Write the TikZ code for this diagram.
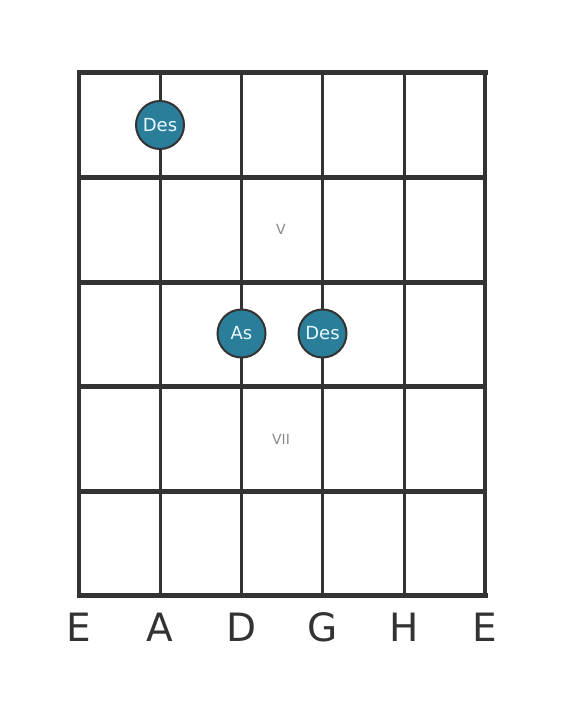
\documentclass[tikz,border=0pt]{standalone}
\usepackage{fontspec}
\setmainfont{DejaVu Sans}
\definecolor{gridc}{HTML}{333333}
\definecolor{notec}{HTML}{2B7E9A}
\definecolor{notetext}{HTML}{E8F8FF}
\definecolor{fretc}{HTML}{8A8A8A}
\begin{document}
\begin{tikzpicture}[x=1pt,y=-1pt,
  hline/.style={gridc,line width=5pt},
  vline/.style={gridc,line width=3pt},
  oline/.style={gridc,line width=4.5pt},
  note/.style={circle,draw=gridc,line width=2pt,fill=notec,minimum size=48pt,inner sep=0pt,text=notetext,font=\fontsize{18}{18}\selectfont},
  strlab/.style={text=gridc,font=\fontsize{39}{39}\selectfont,inner sep=0pt},
  fretlab/.style={text=fretc,font=\fontsize{14}{14}\selectfont,inner sep=0pt}]
\useasboundingbox (0,0) rectangle (566,711);
% inner vertical strings
\foreach \x in {160,241.5,322.5,404}
  \draw[vline] (\x,73) -- (\x,595);
% horizontal frets
\foreach \y in {177.5,282,386.5,491}
  \draw[hline] (79,\y) -- (485,\y);
\draw[hline,line cap=rect] (79,73) -- (485,73);
\draw[hline,line cap=rect] (79,595) -- (485,595);
\draw[oline] (79,73) -- (79,595);
\draw[oline] (485,73) -- (485,595);
% fret numbers
\node[fretlab] (f5) at (281,229.5) {V};
\node[fretlab] (f7) at (281,439) {VII};
% notes
\node[note] (n1) at (160,125) {Des};
\node[note] (n2) at (241.5,333.5) {As};
\node[note] (n3) at (322.5,333.5) {Des};
% string names
\node[strlab] (s1) at (79,627) {E};
\node[strlab] (s2) at (160,627) {A};
\node[strlab] (s3) at (241.5,627) {D};
\node[strlab] (s4) at (322.5,627) {G};
\node[strlab] (s5) at (404,627) {H};
\node[strlab] (s6) at (485,627) {E};
\end{tikzpicture}
\end{document}
